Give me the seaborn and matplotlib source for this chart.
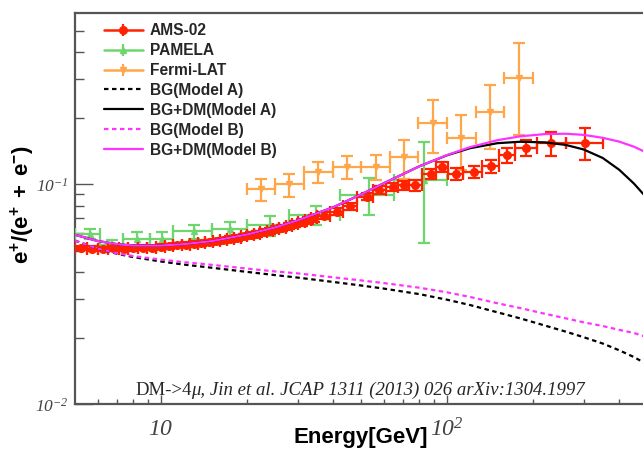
import numpy as np
import pandas as pd
import matplotlib
matplotlib.use("Agg")
import matplotlib.pyplot as plt
import seaborn as sns
from matplotlib.ticker import FixedLocator, FixedFormatter, NullFormatter
from matplotlib.lines import Line2D

# ---------------- data ----------------
# AMS-02 positron fraction
ams_energy = [5.24, 5.74, 6.27, 6.81, 7.39, 7.99, 8.61, 9.27, 9.96, 10.67,
              11.41, 12.19, 12.99, 13.82, 14.69, 15.59, 16.52, 17.48, 18.48, 19.51,
              20.58, 21.68, 22.83, 24.01, 25.25, 26.56, 27.95, 29.43, 31.0, 32.64,
              34.32, 36.98, 41.08, 45.87, 52.5, 57.6, 64.9, 70.9, 77.1, 87.5,
              96.1, 107.5, 123.9, 142.9, 162.2, 189.3, 231.6, 304.5]
ams_edges = [5.00, 5.49, 6.00, 6.54, 7.10, 7.69, 8.30, 8.94, 9.62, 10.32,
             11.04, 11.80, 12.59, 13.41, 14.25, 15.14, 16.05, 17.00, 17.98, 18.99,
             20.04, 21.13, 22.25, 23.42, 24.62, 25.90, 27.25, 28.68, 30.21, 31.82,
             33.50, 35.16, 38.90, 43.39, 48.48, 55.0, 61.0, 67.5, 73.5, 81.5,
             91.5, 101.0, 114.0, 132.0, 152.0, 173.0, 206.0, 260.0, 350.0]
ams_frac = [0.0513, 0.0510, 0.0508, 0.0512, 0.0509, 0.0512, 0.0516, 0.0514, 0.0520, 0.0524,
            0.0530, 0.0532, 0.0537, 0.0541, 0.0545, 0.0552, 0.0556, 0.0565, 0.0570, 0.0580,
            0.0588, 0.0596, 0.0606, 0.0612, 0.0625, 0.0636, 0.0648, 0.0660, 0.0672, 0.0688,
            0.0700, 0.0722, 0.0752, 0.0795, 0.0880, 0.0945, 0.0975, 0.0990, 0.0993, 0.1120,
            0.1200, 0.1114, 0.1141, 0.1210, 0.1360, 0.1470, 0.1535, 0.1548]
ams_err = [0.0012, 0.0012, 0.0012, 0.0012, 0.0012, 0.0012, 0.0012, 0.0012, 0.0013, 0.0013,
           0.0013, 0.0014, 0.0014, 0.0014, 0.0015, 0.0015, 0.0016, 0.0016, 0.0017, 0.0017,
           0.0018, 0.0018, 0.0019, 0.0020, 0.0020, 0.0021, 0.0022, 0.0023, 0.0024, 0.0025,
           0.0026, 0.0027, 0.0029, 0.0031, 0.0035, 0.0040, 0.0045, 0.0050, 0.0055, 0.0060,
           0.0065, 0.0070, 0.0075, 0.0080, 0.0110, 0.0125, 0.0190, 0.0250]

# PAMELA positron fraction
pamela_energy = [5.66, 6.74, 8.25, 10.1, 13.0, 17.4, 24.0, 34.7, 53.2, 82.8]
pamela_lo = [5.0, 6.13, 7.38, 9.18, 11.04, 15.07, 19.98, 27.9, 42.3, 65.0]
pamela_hi = [6.13, 7.38, 9.18, 11.04, 15.07, 19.98, 27.9, 42.3, 65.0, 100.0]
pamela_frac = [0.0598, 0.0530, 0.0567, 0.0567, 0.0612, 0.0624, 0.0653, 0.0725, 0.0899, 0.1050]
pamela_err = [0.0032, 0.0028, 0.0040, 0.0040, 0.0045, 0.0048, 0.0068, 0.0072, 0.0170, 0.0510]

# Fermi-LAT positron fraction
fermi_energy = [22.4, 28.1, 35.5, 44.7, 56.2, 70.8, 89.1, 112.2, 141.3, 177.8]
fermi_lo = [20.0, 25.1, 31.6, 39.8, 50.1, 63.1, 79.4, 100.0, 125.9, 158.5]
fermi_hi = [25.1, 31.6, 39.8, 50.1, 63.1, 79.4, 100.0, 125.9, 158.5, 199.5]
fermi_frac = [0.0949, 0.1000, 0.1141, 0.1202, 0.1202, 0.1327, 0.1905, 0.1618, 0.2138, 0.3034]
fermi_err = [0.0107, 0.0119, 0.0123, 0.0144, 0.0155, 0.0272, 0.0520, 0.0457, 0.0683, 0.1360]

# model curves (background only, and background + dark matter)
model_energy = [5, 6, 7, 8, 10, 12, 15, 20, 25, 30, 40, 50, 60, 80, 100,
                120, 150, 180, 220, 260, 300, 350, 400, 450, 500]
bg_a = [0.0555, 0.0511, 0.0484, 0.0467, 0.0446, 0.0432, 0.0418, 0.0400, 0.0387, 0.0377,
        0.0360, 0.0347, 0.0336, 0.0317, 0.0299, 0.0283, 0.0262, 0.0246, 0.0228, 0.0214,
        0.0202, 0.0189, 0.0176, 0.0164, 0.0152]
bgdm_a = [0.0590, 0.0553, 0.0535, 0.0527, 0.0527, 0.0535, 0.0552, 0.0592, 0.0637, 0.0686,
          0.0787, 0.0900, 0.1011, 0.1209, 0.1357, 0.1460, 0.1540, 0.1563, 0.1553, 0.1512,
          0.1442, 0.1319, 0.1165, 0.1009, 0.0866]
bg_b = [0.0555, 0.0511, 0.0486, 0.0472, 0.0455, 0.0443, 0.0431, 0.0414, 0.0402, 0.0394,
        0.0378, 0.0366, 0.0356, 0.0339, 0.0323, 0.0308, 0.0288, 0.0274, 0.0258, 0.0246,
        0.0236, 0.0227, 0.0218, 0.0211, 0.0202]
bgdm_b = [0.0590, 0.0553, 0.0535, 0.0527, 0.0527, 0.0535, 0.0552, 0.0592, 0.0637, 0.0686,
          0.0787, 0.0900, 0.1011, 0.1209, 0.1360, 0.1476, 0.1589, 0.1654, 0.1694, 0.1700,
          0.1680, 0.1629, 0.1565, 0.1484, 0.1393]

legend_labels = ["AMS-02", "PAMELA", "Fermi-LAT", "BG(Model A)", "BG+DM(Model A)",
                 "BG(Model B)", "BG+DM(Model B)"]

# ---------------- style ----------------
sns.set_style("white")
plt.rcParams["font.family"] = ["Liberation Sans", "DejaVu Sans"]
plt.rcParams["mathtext.fontset"] = "custom"
plt.rcParams["mathtext.rm"] = "Liberation Serif:italic"
plt.rcParams["mathtext.it"] = "Liberation Serif:italic"
plt.rcParams["mathtext.bf"] = "Liberation Sans:bold"

W, H = 643, 454
fig = plt.figure(figsize=(W / 100, H / 100), dpi=100)
x0, x1, y0, y1 = 75, 647, 13.3, 404.3
ax = fig.add_axes([x0 / W, (H - y1) / H, (x1 - x0) / W, (y1 - y0) / H])
ax.set_xscale("log")
ax.set_yscale("log")
ax.set_xlim(5, 500)
ax.set_ylim(0.01, 0.6)

c_ams = "#ff2200"
c_pam = "#6fd66f"
c_fermi = "#ffa64a"
c_mag = "#ff33ff"


def errs(center, lo, hi):
    c = np.asarray(center)
    return np.vstack([c - np.asarray(lo), np.asarray(hi) - c])


ams_e = np.asarray(ams_edges)
ams_x = np.asarray(ams_energy)
eb_kw = dict(elinewidth=1.6, capsize=4, capthick=1.6)
ax.errorbar(pamela_energy, pamela_frac, yerr=pamela_err,
            xerr=errs(pamela_energy, pamela_lo, pamela_hi),
            fmt="^", ms=5, color=c_pam, ecolor=c_pam, zorder=3, **eb_kw)
ax.errorbar(fermi_energy, fermi_frac, yerr=fermi_err,
            xerr=errs(fermi_energy, fermi_lo, fermi_hi),
            fmt="v", ms=5, color=c_fermi, ecolor=c_fermi, zorder=3, **eb_kw)
ax.errorbar(ams_energy, ams_frac, yerr=ams_err,
            xerr=np.vstack([ams_x - ams_e[:-1], ams_e[1:] - ams_x]),
            fmt="o", ms=5.5, color=c_ams, ecolor=c_ams, zorder=4, **eb_kw)

n = len(model_energy)
curves = pd.DataFrame({
    "energy": model_energy * 4,
    "frac": bg_a + bgdm_a + bg_b + bgdm_b,
    "model": [legend_labels[3]] * n + [legend_labels[4]] * n
             + [legend_labels[5]] * n + [legend_labels[6]] * n,
})
palette = {legend_labels[3]: "black", legend_labels[4]: "black",
           legend_labels[5]: c_mag, legend_labels[6]: c_mag}
dash_map = {legend_labels[3]: (2, 1.6), legend_labels[4]: "",
            legend_labels[5]: (2, 1.6), legend_labels[6]: ""}
sns.lineplot(data=curves, x="energy", y="frac", hue="model", style="model",
             palette=palette, dashes=dash_map, linewidth=1.6, legend=False,
             sort=False, estimator=None, ax=ax, zorder=5)

# ---------------- axes styling ----------------
spine_c = "#555555"
for side in ["left", "bottom", "top"]:
    ax.spines[side].set_color(spine_c)
    ax.spines[side].set_linewidth(1.6)
ax.spines["right"].set_visible(False)

ax.xaxis.set_major_locator(FixedLocator([10, 100]))
ax.xaxis.set_major_formatter(FixedFormatter([r"$10$", r"$10^{2}$"]))
ax.xaxis.set_minor_locator(FixedLocator([6, 7, 8, 9, 20, 30, 40, 50, 60, 70, 80, 90,
                                         200, 300, 400]))
ax.xaxis.set_minor_formatter(NullFormatter())
ax.yaxis.set_major_locator(FixedLocator([0.01, 0.1]))
ax.yaxis.set_major_formatter(FixedFormatter([r"$10^{-2}$", r"$10^{-1}$"]))
ax.yaxis.set_minor_locator(FixedLocator([0.02, 0.03, 0.04, 0.05, 0.06, 0.07, 0.08, 0.09,
                                         0.2, 0.3, 0.4, 0.5]))
ax.yaxis.set_minor_formatter(NullFormatter())

ax.tick_params(axis="x", which="major", direction="in", length=6.5, width=1,
               color=spine_c, labelsize=17, labelcolor="#444444", pad=10,
               top=False, bottom=True)
ax.tick_params(axis="x", which="minor", direction="in", length=3.6, width=1,
               color=spine_c, top=False, bottom=True)
ax.tick_params(axis="y", which="major", direction="in", length=13, width=1,
               color=spine_c, labelsize=12.5, labelcolor="#444444", pad=5,
               left=True, right=False)
ax.tick_params(axis="y", which="minor", direction="in", length=6.5, width=1,
               color=spine_c, left=True, right=False)

ax.set_xlabel("Energy[GeV]", fontsize=16, fontweight="bold", color="black")
ax.xaxis.set_label_coords(0.5, -0.084)
ax.xaxis.label.set_verticalalignment("center")
ax.set_ylabel(r"$\mathbf{e^{+}/(e^{+}\ +\ e^{-})}$", fontsize=16, color="black")
ax.yaxis.set_label_coords(-0.091, 0.512)
ax.yaxis.label.set_verticalalignment("center")

# reference note, upright "DM->4" followed by an italic remainder
t1 = fig.text(135 / W, (H - 395) / H, "DM->4", fontsize=13.5,
              family="Liberation Serif", va="baseline", ha="left")
ax.annotate("\u03bc, Jin et al. JCAP 1311 (2013) 026 arXiv:1304.1997",
            xy=(1, 0), xycoords=t1, fontsize=13.5, family="Liberation Serif",
            style="italic", va="bottom", ha="left")

# legend
def data_handle(color, marker, ms):
    return (Line2D([], [], color=color, lw=1.8, marker=marker, ms=ms),
            Line2D([], [], color=color, lw=0, marker="|", ms=9, mew=1.6))


legend_handles = [
    data_handle(c_ams, "o", 5.5), data_handle(c_pam, "^", 5), data_handle(c_fermi, "v", 5),
    Line2D([], [], color="black", lw=1.6, dashes=(2, 1.6)),
    Line2D([], [], color="black", lw=1.6),
    Line2D([], [], color=c_mag, lw=1.6, dashes=(2, 1.6)),
    Line2D([], [], color=c_mag, lw=1.6),
]
ax.legend(legend_handles, legend_labels, loc="upper left",
          bbox_to_anchor=((104 - x0) / (x1 - x0), (y1 - 23) / (y1 - y0)),
          frameon=False, prop={"family": "Liberation Sans", "weight": "bold", "size": 11.2},
          handlelength=2.5, handletextpad=0.46, labelspacing=0.32, borderpad=0,
          borderaxespad=0)

fig.savefig("out.png", dpi=100)
